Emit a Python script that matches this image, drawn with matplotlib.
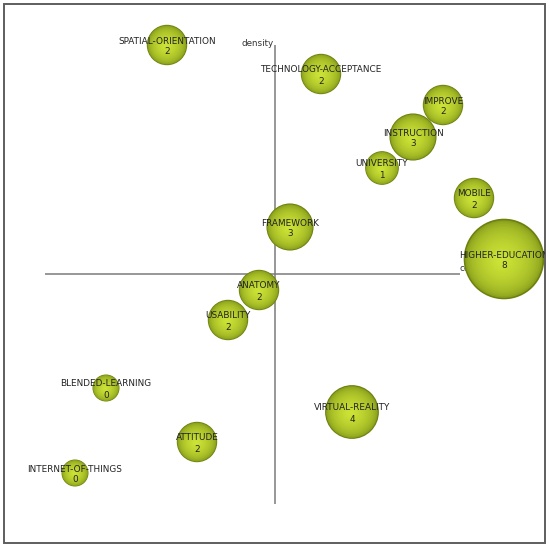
import matplotlib
matplotlib.use("Agg")
import matplotlib.pyplot as plt
from matplotlib.patches import Circle, Rectangle
from matplotlib.transforms import Bbox, TransformedBbox
import numpy as np

# ---- data (centrality / density, arbitrary units) ----
themes = ["SPATIAL-ORIENTATION", "TECHNOLOGY-ACCEPTANCE", "IMPROVE", "INSTRUCTION",
          "UNIVERSITY", "MOBILE", "HIGHER-EDUCATION", "FRAMEWORK", "ANATOMY",
          "USABILITY", "BLENDED-LEARNING", "INTERNET-OF-THINGS", "ATTITUDE",
          "VIRTUAL-REALITY"]
centrality = [-108, 46, 168, 138, 107, 199, 229, 15, -16, -47, -169, -200, -78, 77]
density = [229, 200, 169, 137, 106, 76, 15, 47, -16, -46, -114, -199, -168, -138]
values = [2, 2, 2, 3, 1, 2, 8, 3, 2, 2, 0, 0, 2, 4]

fig = plt.figure(figsize=(5.5, 5.5), dpi=100)
ax = fig.add_axes([0, 0, 1, 1])
ax.set_xlim(-275, 275)
ax.set_ylim(-276, 274)
ax.set_axis_off()

# frame
frame = Rectangle((-271, -269), 541, 539, fill=False, edgecolor="#5e5e5e",
                  linewidth=1.4, zorder=1)
ax.add_patch(frame)
clipbox = TransformedBbox(Bbox([[-271, -269], [270, 270]]), ax.transData)

# axes lines
axis_col = "#7a7a7a"
ax.plot([0, 0], [229, -230], color=axis_col, lw=1.1, zorder=2, solid_capstyle="butt")
ax.plot([-230, 185], [0, 0], color=axis_col, lw=1.1, zorder=2, solid_capstyle="butt")
ax.text(-1, 231, "density", ha="right", va="center", fontsize=6.3,
        color="#333333", zorder=2)
ax.text(185, 1, "centrality", ha="left", va="bottom", fontsize=6.3,
        color="#333333", zorder=2)

edge = np.array([0.42, 0.50, 0.06])
center = np.array([0.80, 0.89, 0.21])
nlayers = 24


def radius(v):
    return 13.5 + 3.35 * v


z = 10
for name, cx, cy, v in zip(themes, centrality, density, values):
    r = radius(v)
    for k in range(nlayers):
        t = k / (nlayers - 1)
        rr = r * (1 - 0.92 * t)
        frac = t ** 0.35
        col = edge + (center - edge) * frac
        ox = -0.06 * r * t
        oy = -0.04 * r * t
        c = Circle((cx + ox, cy + oy), rr, facecolor=col, edgecolor="none",
                   zorder=z, antialiased=True)
        ax.add_patch(c)
        c.set_clip_path(frame)
        z += 0.001
    z += 1

for name, cx, cy, v in zip(themes, centrality, density, values):
    t1 = ax.text(cx, cy + 4, name, ha="center", va="center", fontsize=6.4,
                 color="#222222", zorder=200)
    t2 = ax.text(cx, cy - 7, str(v), ha="center", va="center", fontsize=6.4,
                 color="#222222", zorder=200)
    t1.set_clip_box(clipbox)
    t1.set_clip_on(True)

fig.savefig("out.png", dpi=100)
